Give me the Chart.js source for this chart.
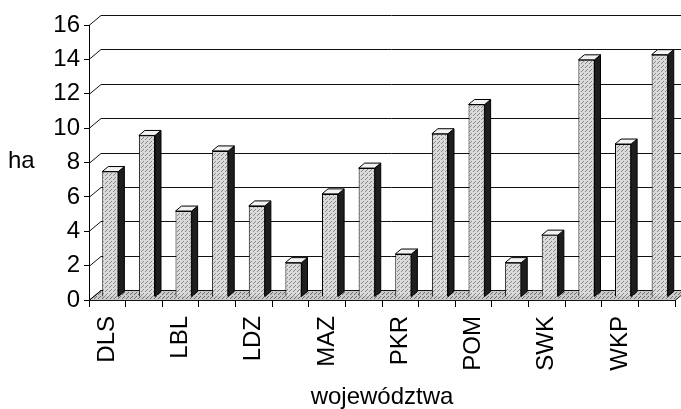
<!DOCTYPE html>
<html><head><meta charset="utf-8">
<script src="https://cdn.jsdelivr.net/npm/chart.js@4"></script>
<style>html,body{margin:0;padding:0;background:#fff}canvas{display:block}</style>
</head><body>
<canvas id="c" width="681" height="409"></canvas>
<script>
// ---- data ----
const categories = ['DLS','KPM','LBL','LBS','LDZ','MLP','MAZ','OPO','PKR','PDL','POM','SLK','SWK','WMZ','WKP','ZPM'];
const values = [7.3, 9.4, 5.0, 8.5, 5.3, 2.0, 6.0, 7.5, 2.5, 9.5, 11.2, 2.0, 3.6, 13.8, 8.9, 14.1];
const yTicks = [0, 2, 4, 6, 8, 10, 12, 14, 16];
const yTitle = 'ha';
const xTitle = 'województwa';

// ---- style ----
const FONT = '"Liberation Sans", Arial, sans-serif';
Chart.defaults.font.family = FONT;
Chart.defaults.color = '#000';
const WALL_DX = 12, WALL_DY = 10;   // depth of the 3-D box
const BAR_DX = 6, BAR_DY = 5;       // depth of each bar
const SHIFT_X = 3, SHIFT_Y = 3;     // bars sit mid-depth

const canvas = document.getElementById('c');
const ctx0 = canvas.getContext('2d');
function makePattern(base, dot) {
  const c = document.createElement('canvas'); c.width = 4; c.height = 4;
  const g = c.getContext('2d');
  g.fillStyle = base; g.fillRect(0, 0, 4, 4);
  g.fillStyle = dot; g.fillRect(0, 0, 1, 1); g.fillRect(2, 2, 1, 1); g.fillRect(3, 1, 1, 1);
  return ctx0.createPattern(c, 'repeat');
}
const barPattern = makePattern('#dadada', '#8a8a8a');
const floorPattern = makePattern('#cacaca', '#6e6e6e');

const threeD = {
  id: 'threeD',
  beforeDatasetsDraw(chart) {
    const {ctx, chartArea: a, scales: {y}} = chart;
    ctx.save();
    ctx.strokeStyle = '#111';
    ctx.lineWidth = 1;
    // floor
    ctx.fillStyle = floorPattern;
    ctx.beginPath();
    ctx.moveTo(a.left, a.bottom + 0.5);
    ctx.lineTo(a.right, a.bottom + 0.5);
    ctx.lineTo(a.right + WALL_DX, a.bottom - WALL_DY + 0.5);
    ctx.lineTo(a.left + WALL_DX, a.bottom - WALL_DY + 0.5);
    ctx.closePath();
    ctx.fill();
    ctx.stroke();
    // side-wall diagonals and back-wall gridlines
    yTicks.forEach(v => {
      const py = Math.round(y.getPixelForValue(v)) + 0.5;
      ctx.beginPath();
      ctx.moveTo(a.left, py);
      ctx.lineTo(a.left + WALL_DX, py - WALL_DY);
      ctx.lineTo(a.right + WALL_DX, py - WALL_DY);
      ctx.stroke();
    });
    ctx.restore();
    ctx.save();
    ctx.translate(SHIFT_X, -SHIFT_Y);
  },
  afterDatasetsDraw(chart) {
    const {ctx} = chart;
    ctx.strokeStyle = '#000';
    ctx.lineWidth = 1;
    chart.getDatasetMeta(0).data.forEach(bar => {
      const {x, y, base, width} = bar.getProps(['x', 'y', 'base', 'width'], true);
      const l = x - width / 2, r = x + width / 2;
      ctx.fillStyle = '#1e1e1e';
      ctx.beginPath();
      ctx.moveTo(r, y); ctx.lineTo(r + BAR_DX, y - BAR_DY);
      ctx.lineTo(r + BAR_DX, base - BAR_DY); ctx.lineTo(r, base);
      ctx.closePath(); ctx.fill(); ctx.stroke();
      ctx.fillStyle = '#f2f2f2';
      ctx.beginPath();
      ctx.moveTo(l, y); ctx.lineTo(l + BAR_DX, y - BAR_DY);
      ctx.lineTo(r + BAR_DX, y - BAR_DY); ctx.lineTo(r, y);
      ctx.closePath(); ctx.fill(); ctx.stroke();
    });
    ctx.restore();
  },
  afterDraw(chart) {
    const {ctx} = chart;
    ctx.save();
    ctx.font = '24px ' + FONT;
    ctx.fillStyle = '#000';
    ctx.textBaseline = 'alphabetic';
    ctx.fillText(yTitle, 8, 168);
    ctx.restore();
  }
};

new Chart(canvas, {
  type: 'bar',
  data: {
    labels: categories,
    datasets: [{
      data: values,
      backgroundColor: barPattern,
      borderColor: '#000',
      borderWidth: 1,
      categoryPercentage: 1,
      barPercentage: 0.44
    }]
  },
  options: {
    responsive: false,
    animation: false,
    devicePixelRatio: 1,
    layout: {padding: {top: 25, right: 6, left: 0, bottom: 0}},
    plugins: {legend: {display: false}, tooltip: {enabled: false}},
    scales: {
      x: {
        offset: true,
        grid: {offset: true, drawOnChartArea: false, drawTicks: true, tickLength: 7, color: '#000'},
        border: {display: true, color: '#000'},
        ticks: {
          autoSkip: false, minRotation: 90, maxRotation: 90, padding: 9,
          font: {size: 24}, color: '#000',
          callback: (v, i) => (i % 2 === 0 ? categories[i] : '')
        },
        title: {display: true, text: xTitle, font: {size: 24, lineHeight: 1}, color: '#000', padding: {top: 0, bottom: 0}},
        afterFit: s => { s.height = 109; s.paddingLeft = 0; s.paddingRight = 0; }
      },
      y: {
        min: 0, max: 16,
        grid: {drawOnChartArea: false, drawTicks: true, tickLength: 5, color: '#000'},
        border: {display: true, color: '#000'},
        ticks: {stepSize: 2, padding: 4, font: {size: 24}, color: '#000'},
        afterBuildTicks: s => { s.ticks = yTicks.map(v => ({value: v})); },
        afterFit: s => { s.width = 89; }
      }
    }
  },
  plugins: [threeD]
});
</script>
</body></html>
